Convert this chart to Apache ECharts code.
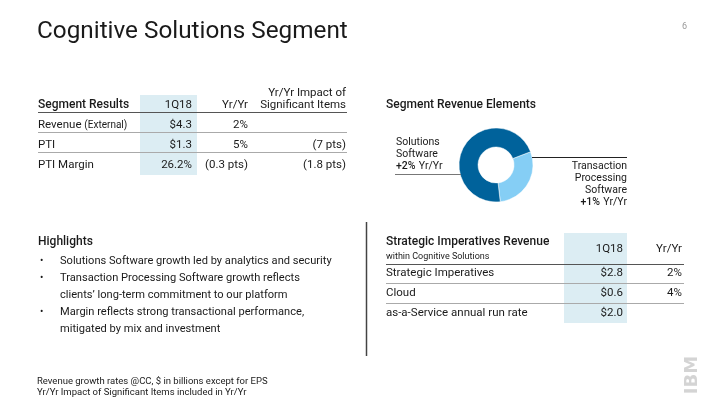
<!DOCTYPE html>
<html><head><meta charset="utf-8">
<script src="https://cdn.jsdelivr.net/npm/echarts@6/dist/echarts.min.js"></script>
<style>html,body{margin:0;padding:0;background:#fff}#c{width:720px;height:405px}</style>
</head><body><div id="c"></div>
<script>
// ---- data ----
var title = 'Cognitive Solutions Segment';
var pageNo = '6';
var segHeaders = ['Segment Results', '1Q18', 'Yr/Yr', ['Yr/Yr Impact of', 'Significant Items']];
var segRows = ['Revenue', 'PTI', 'PTI Margin'];
var segRowNotes = ['(External)', '', ''];
var seg1Q18 = ['$4.3', '$1.3', '26.2%'];
var segYrYr = ['2%', '5%', '(0.3 pts)'];
var segImpact = ['', '(7 pts)', '(1.8 pts)'];

var donutTitle = 'Segment Revenue Elements';
var donutNames = ['Transaction Processing Software', 'Solutions Software'];
var donutShares = [29, 71];
var donutGrowth = ['+1%', '+2%'];

var siHeaders = ['Strategic Imperatives Revenue', 'within Cognitive Solutions', '1Q18', 'Yr/Yr'];
var siRows = ['Strategic Imperatives', 'Cloud', 'as-a-Service annual run rate'];
var si1Q18 = ['$2.8', '$0.6', '$2.0'];
var siYrYr = ['2%', '4%', ''];

var hlTitle = 'Highlights';
var highlights = [
  ['Solutions Software growth led by analytics and security'],
  ['Transaction Processing Software growth reflects', 'clients\u2019 long-term commitment to our platform'],
  ['Margin reflects strong transactional performance,', 'mitigated by mix and investment']
];
var footnotes = ['Revenue growth rates @CC, $ in billions except for EPS', 'Yr/Yr Impact of Significant Items included in Yr/Yr'];

// ---- drawing ----
var FF = 'Roboto, sans-serif';
var TXT = '#1a1a1a';
var HL = '#dcedf3';
var g = [];
function t(text, x, y, opt) {
  opt = opt || {};
  g.push({type: 'text', z: 10, style: {
    text: text, x: x, y: y,
    font: (opt.bold ? '500 ' : '') + (opt.size || 11.5) + 'px ' + (opt.family || FF),
    fill: opt.fill || TXT,
    textAlign: opt.align || 'left', textVerticalAlign: 'middle'
  }});
}
function ln(x1, y1, x2, y2, c, w) {
  g.push({type: 'line', z: 5, shape: {x1: x1, y1: y1, x2: x2, y2: y2}, style: {stroke: c || '#999', lineWidth: w || 1}});
}
function rc(x, y, w, h, c) {
  g.push({type: 'rect', z: 1, shape: {x: x, y: y, width: w, height: h}, style: {fill: c}});
}

// title
t(title, 37, 32, {size: 24.3});
t(pageNo, 682, 27, {size: 9, fill: '#999'});

// segment results table
rc(140, 95, 57, 80, HL);
t(segHeaders[0], 38, 105, {bold: true, size: 12});
t(segHeaders[1], 192, 105, {align: 'right'});
t(segHeaders[2], 248, 105, {align: 'right'});
t(segHeaders[3][0], 346, 93, {align: 'right'});
t(segHeaders[3][1], 346, 105, {align: 'right'});
ln(38, 112.5, 347, 112.5, '#555', 1);
var segY = [125, 145, 165];
for (var i = 0; i < segRows.length; i++) {
  var y = segY[i];
  if (segRowNotes[i]) {
    g.push({type: 'text', z: 10, style: {
      text: '{a|' + segRows[i] + ' }{b|' + segRowNotes[i] + '}', x: 38, y: y,
      textVerticalAlign: 'middle', fill: TXT,
      rich: {a: {font: '11.5px ' + FF, fill: TXT}, b: {font: '10px ' + FF, fill: TXT}}
    }});
  } else t(segRows[i], 38, y);
  t(seg1Q18[i], 192, y, {align: 'right'});
  t(segYrYr[i], 248, y, {align: 'right'});
  if (segImpact[i]) t(segImpact[i], 346, y, {align: 'right'});
  if (i < segRows.length - 1) ln(38, y + 7.5, 347, y + 7.5, '#aaa', 1);
}

// donut section
t(donutTitle, 386, 105, {bold: true, size: 12});
ln(395, 174.5, 461, 174.5, '#777', 1);
ln(532, 157.5, 627, 157.5, '#222', 1);
t('Solutions', 396, 142, {size: 10.5});
t('Software', 396, 154, {size: 10.5});
g.push({type: 'text', z: 10, style: {text: '{b|' + donutGrowth[1] + '} {a|Yr/Yr}', x: 396, y: 166, textVerticalAlign: 'middle',
  rich: {a: {font: '10.5px ' + FF, fill: TXT}, b: {font: '500 10.5px ' + FF, fill: TXT}}}});
t('Transaction', 627, 166, {size: 10.5, align: 'right'});
t('Processing', 627, 178, {size: 10.5, align: 'right'});
t('Software', 627, 190, {size: 10.5, align: 'right'});
g.push({type: 'text', z: 10, style: {text: '{b|' + donutGrowth[0] + '} {a|Yr/Yr}', x: 627, y: 202, textAlign: 'right', textVerticalAlign: 'middle',
  rich: {a: {font: '10.5px ' + FF, fill: TXT}, b: {font: '500 10.5px ' + FF, fill: TXT}}}});

// SI table
rc(564, 233, 63, 90, HL);
t(siHeaders[0], 386, 242, {bold: true, size: 12});
t(siHeaders[1], 386, 257, {size: 9});
t(siHeaders[2], 623, 249, {align: 'right'});
t(siHeaders[3], 682, 249, {align: 'right'});
ln(386, 264.5, 684, 264.5, '#555', 1);
var siY = [273, 293, 313];
for (var j = 0; j < siRows.length; j++) {
  t(siRows[j], 386, siY[j]);
  t(si1Q18[j], 623, siY[j], {align: 'right'});
  if (siYrYr[j]) t(siYrYr[j], 682, siY[j], {align: 'right'});
  if (j < siRows.length - 1) ln(386, siY[j] + 10.5, 684, siY[j] + 10.5, '#aaa', 1);
}

// divider
ln(366.5, 222, 366.5, 356, '#444', 1.5);

// highlights
t(hlTitle, 38, 242, {bold: true, size: 12});
var hy = 261;
for (var k = 0; k < highlights.length; k++) {
  t('\u2022', 40, hy, {size: 10});
  for (var m = 0; m < highlights[k].length; m++) {
    t(highlights[k][m], 60, hy, {size: 11.1});
    hy += 17;
  }
}

// footnotes
t(footnotes[0], 37, 382, {size: 9.5});
t(footnotes[1], 37, 393, {size: 9.5});

// logo
g.push({type: 'text', z: 10, x: 692, y: 375, rotation: Math.PI / 2, style: {
  text: 'IBM', x: 0, y: 0, font: 'bold 18px "DejaVu Sans", sans-serif', fill: '#d4d4d4',
  textAlign: 'center', textVerticalAlign: 'middle'}});

var chart = echarts.init(document.getElementById('c'), null, {renderer: 'canvas'});
chart.setOption({
  animation: false,
  backgroundColor: '#fff',
  series: [{
    type: 'pie',
    center: [496, 165],
    radius: [18, 37],
    startAngle: 21,
    clockwise: true,
    label: {show: false},
    labelLine: {show: false},
    silent: true,
    itemStyle: {borderColor: '#fff', borderWidth: 0.5},
    data: donutNames.map(function (n, i) {
      return {name: n, value: donutShares[i], itemStyle: {color: i === 0 ? '#85cef5' : '#00629b'}};
    })
  }],
  graphic: g
});
</script>
</body></html>
